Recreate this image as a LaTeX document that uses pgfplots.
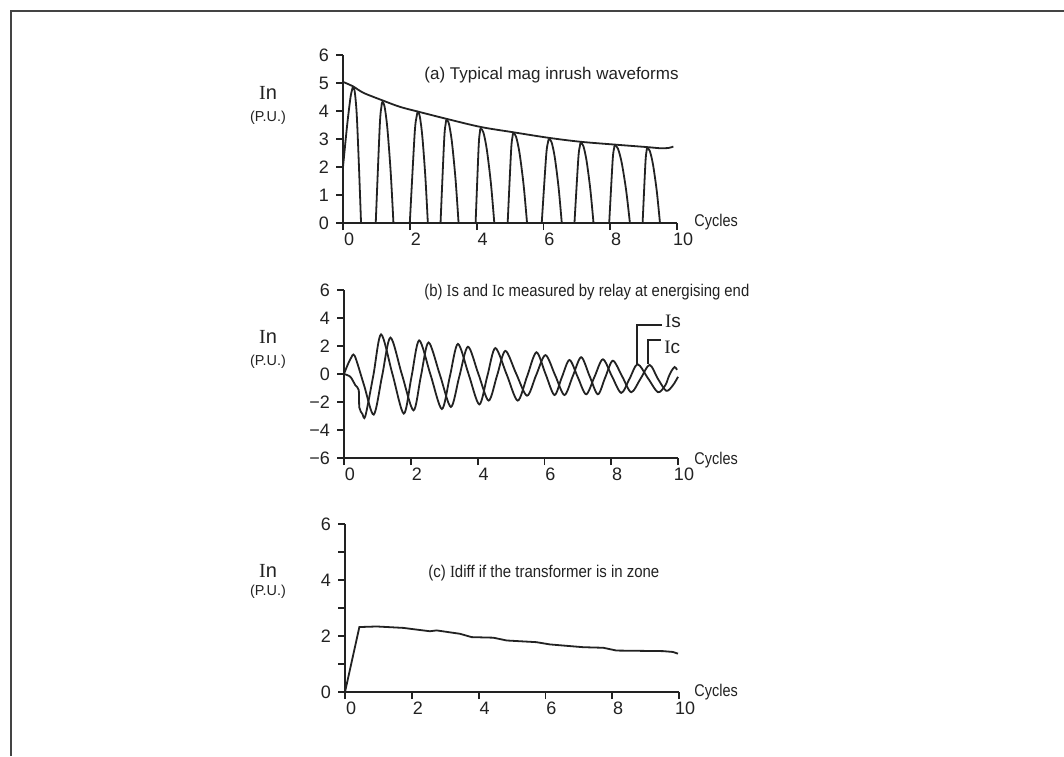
\documentclass[border=0pt]{standalone}
\usepackage{graphicx}
\usepackage{pgfplots}
\pgfplotsset{compat=1.18}
\usepackage{fontspec}
\setmainfont{Liberation Sans}
\newfontfamily\serifI{Liberation Serif}
\newcommand{\RI}{{\serifI I}}
\definecolor{ink}{HTML}{222222}
\definecolor{frame}{HTML}{444444}
\pgfplotsset{
  myaxis/.style={
    scale only axis, width=167pt, height=84pt,
    axis lines=left, axis line style={-, line width=1pt, ink},
    xmin=0, xmax=10, xtick={0,2,4,6,8,10}, xticklabels={0,2,4,6,8,10},
    tick align=outside, major tick length=3.5pt,
    tick style={line width=0.9pt, ink},
    ticklabel style={font=\fontsize{9}{10}\selectfont, text=ink},
    xticklabel style={xshift=3pt, inner sep=1.5pt},
    clip=false,
  },
  curve/.style={line width=0.9pt, ink},
}
\begin{document}
\begin{tikzpicture}
\useasboundingbox (0,0) rectangle (532pt,378pt);
\fill[white] (0,0) rectangle (532pt,378pt);
\draw[frame, line width=1pt] (5.5pt,0) -- (5.5pt,372.5pt) -- (532pt,372.5pt);

% ---------- (a)
\begin{axis}[myaxis, at={(171.5pt,266.5pt)}, anchor=south west,
  ymin=0, ymax=6, ytick={0,1,2,3,4,5,6}, yticklabels={0,1,2,3,4,5,6}]
\addplot[curve, smooth] coordinates {(0,2.0) (0.12,3.45) (0.22,4.45) (0.27,4.75) (0.3,4.85) (0.35,4.7) (0.41,3.9) (0.475,2.1) (0.54,0)};
\addplot[curve, smooth] coordinates {(0.98,0) (1.10,3.46) (1.15,4.15) (1.18,4.32) (1.246,4.15) (1.329,3.37) (1.428,1.81) (1.51,0)};
\addplot[curve, smooth] coordinates {(2.0,0) (2.144,3.17) (2.204,3.80) (2.24,3.96) (2.30,3.80) (2.375,3.09) (2.465,1.66) (2.54,0)};
\addplot[curve, smooth] coordinates {(2.92,0) (3.028,2.95) (3.073,3.54) (3.10,3.69) (3.172,3.54) (3.262,2.88) (3.37,1.55) (3.46,0)};
\addplot[curve, smooth] coordinates {(3.97,0) (4.06,2.70) (4.098,3.24) (4.12,3.37) (4.202,3.24) (4.305,2.63) (4.428,1.42) (4.53,0)};
\addplot[curve, smooth] coordinates {(4.93,0) (5.032,2.57) (5.075,3.08) (5.10,3.21) (5.182,3.08) (5.285,2.50) (5.408,1.35) (5.51,0)};
\addplot[curve, smooth] coordinates {(5.95,0) (6.082,2.40) (6.137,2.88) (6.17,3.0) (6.246,2.88) (6.341,2.34) (6.455,1.26) (6.55,0)};
\addplot[curve, smooth] coordinates {(6.93,0) (7.044,2.29) (7.092,2.75) (7.12,2.86) (7.196,2.75) (7.291,2.23) (7.405,1.20) (7.50,0)};
\addplot[curve, smooth] coordinates {(7.97,0) (8.072,2.22) (8.115,2.66) (8.14,2.77) (8.23,2.66) (8.343,2.16) (8.478,1.16) (8.59,0)};
\addplot[curve, smooth] coordinates {(8.97,0) (9.054,2.14) (9.089,2.57) (9.11,2.68) (9.186,2.57) (9.281,2.09) (9.395,1.13) (9.49,0)};
\addplot[curve, smooth] coordinates {(0,5.04) (0.3,4.88) (0.61,4.65) (1.18,4.38) (1.7,4.15) (2.24,3.98) (3.1,3.72) (4.12,3.43) (5.1,3.24) (6.17,3.04) (7.12,2.9) (8.14,2.8) (9.11,2.71) (9.5,2.67) (9.75,2.68) (9.89,2.73)};
\end{axis}

% ---------- (b)
\begin{axis}[myaxis, at={(172pt,149pt)}, anchor=south west,
  ymin=-6, ymax=6, ytick={-6,-4,-2,0,2,4,6}, yticklabels={−6,−4,−2,0,2,4,6}]
\addplot[curve, smooth] coordinates {(0,0) (0.19,-0.2) (0.34,-0.8) (0.44,-1.15) (0.46,-2.4) (0.55,-2.85) (0.64,-3.0)
 (0.88,-0.08) (1.11,2.83) (1.45,0) (1.79,-2.83) (2.02,-0.21) (2.25,2.4) (2.59,-0.05) (2.93,-2.5) (3.17,-0.17) (3.41,2.15) (3.73,-0.01) (4.05,-2.17) (4.29,-0.16) (4.53,1.85) (4.87,-0.03) (5.2,-1.9) (5.48,-0.18) (5.76,1.55) (6.03,0.03) (6.3,-1.5) (6.52,-0.25) (6.75,1.0) (7.0,-0.23) (7.25,-1.45) (7.5,-0.2) (7.75,1.05) (8.02,-0.15) (8.3,-1.35) (8.55,-0.33) (8.79,0.7) (9.1,-0.3) (9.4,-1.3) (9.62,-0.8) (9.72,-0.2) (9.8,0.2) (9.9,0.5) (9.97,0.3)};
\addplot[curve, smooth] coordinates {(0,0) (0.1,0.6) (0.2,1.1) (0.32,1.3) (0.6,-0.8) (0.89,-2.9) (1.14,-0.15) (1.39,2.6) (1.73,0) (2.08,-2.6) (2.3,-0.18) (2.53,2.25) (2.87,-0.05) (3.2,-2.35) (3.45,-0.2) (3.71,1.95) (4.02,0.03) (4.33,-1.9) (4.58,-0.13) (4.83,1.65) (5.15,0.05) (5.48,-1.55) (5.75,-0.1) (6.03,1.35) (6.32,-0.08) (6.6,-1.5) (6.85,-0.15) (7.1,1.2) (7.35,-0.13) (7.6,-1.45) (7.82,-0.25) (8.05,0.95) (8.33,-0.18) (8.6,-1.3) (8.88,-0.33) (9.15,0.65) (9.4,-0.35) (9.65,-1.2) (9.85,-0.8) (10.0,-0.2)};
\draw[line width=0.7pt, ink] (axis cs:8.77,0.75) -- (axis cs:8.77,3.5) -- (axis cs:9.52,3.5);
\draw[line width=0.7pt, ink] (axis cs:9.10,0.7) -- (axis cs:9.10,2.43) -- (axis cs:9.49,2.43);
\node[anchor=base west, inner sep=0pt, font=\fontsize{9.5}{10}\selectfont, text=ink] at (axis cs:9.6,3.29) {\RI s};
\node[anchor=base west, inner sep=0pt, font=\fontsize{9.5}{10}\selectfont, text=ink] at (axis cs:9.58,1.5) {\RI c};
\end{axis}

% ---------- (c)
\begin{axis}[myaxis, at={(172.5pt,32pt)}, anchor=south west,
  ymin=0, ymax=6, ytick={0,1,2,3,4,5,6}, yticklabels={0,,2,,4,,6}]
\addplot[curve] coordinates {(0,0) (0.43,2.32) (0.95,2.34) (1.74,2.29) (2.54,2.17) (2.74,2.2) (3.44,2.08) (3.79,1.96) (4.44,1.94) (4.84,1.84) (5.73,1.78) (6.13,1.7) (7.13,1.6) (7.73,1.58) (8.13,1.48) (9.52,1.46) (9.82,1.43) (9.97,1.37)};
\end{axis}

% ---------- texts
\begin{scope}[every node/.style={text=ink, inner sep=0pt}]
\node[anchor=base west, font=\fontsize{8.5}{10}\selectfont] at (212pt,338pt) {(a) Typical mag inrush waveforms};
\node[anchor=base west, font=\fontsize{8.5}{10}\selectfont] at (212pt,229.5pt) {\scalebox{0.875}[1]{(b) \RI s and \RI c measured by relay at energising end}};
\node[anchor=base west, font=\fontsize{8.5}{10}\selectfont] at (214pt,89.5pt) {\scalebox{0.88}[1]{(c) \RI diff if the transformer is in zone}};
\foreach \yb/\yp in {328/317, 206.5/195.5, 89.5/80.5}{
  \node[anchor=base, font=\fontsize{10}{11}\selectfont] at (134pt,\yb pt) {\RI n};
  \node[anchor=base, font=\fontsize{7.2}{9}\selectfont] at (134pt,\yp pt) {(P.U.)};
}
\foreach \yb in {264.5, 146, 30}{
  \node[anchor=base west, font=\fontsize{8.5}{10}\selectfont] at (347pt,\yb pt) {\scalebox{0.85}[1]{Cycles}};
}
\end{scope}
\end{tikzpicture}
\end{document}
